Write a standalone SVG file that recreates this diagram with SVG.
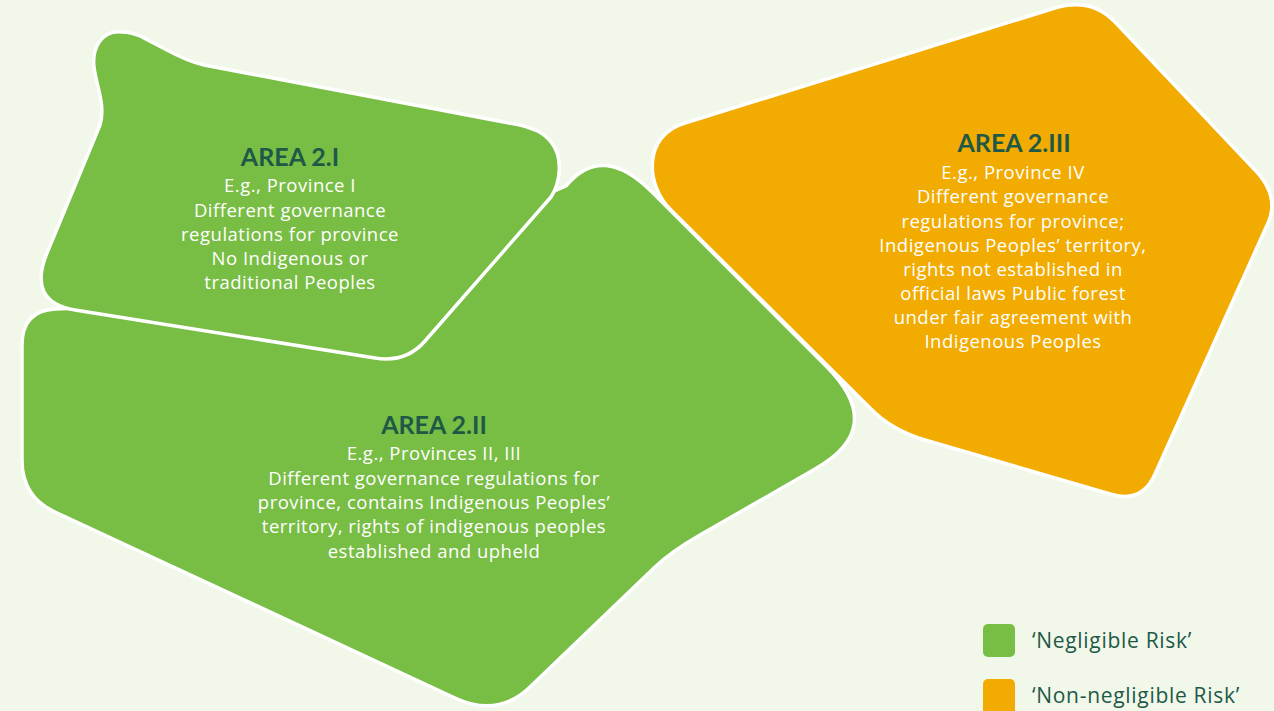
<svg xmlns="http://www.w3.org/2000/svg" width="1274" height="711" viewBox="0 0 1274 711">
<style>
.bg{fill:#f1f7e9}
.green{fill:#78bd44;stroke:#ffffff;stroke-width:3.5;stroke-linejoin:round}
.orange{fill:#f2ab00;stroke:#ffffff;stroke-width:3.5;stroke-linejoin:round}
.title{font-family:Lato,"Open Sans","Liberation Sans",sans-serif;font-weight:700;font-size:25px;fill:#1e5948;text-anchor:middle}
.body{font-family:"Open Sans",Lato,"Liberation Sans",sans-serif;font-size:18.5px;letter-spacing:0.5px;fill:#ffffff;text-anchor:middle}
.legend{font-family:"Open Sans",Lato,"Liberation Sans",sans-serif;font-size:21px;letter-spacing:0.7px;fill:#1e5948}
</style>
<rect class="bg" x="0" y="0" width="1274" height="711"/>

<g id="area-2-ii">
<path class="green" d="M 566,186 Q 602,142 652,192 L 826,366 Q 888,428 815,469 L 700,535 Q 672,551 655,567 L 530,687 Q 498,718 455,698 L 55,512 Q 22,497 22,460 L 22,345 Q 22,311 55,309 L 300,300 Z"/>
<text class="title" x="434" y="434">AREA 2.II</text>
<text class="body" x="434" y="460">E.g., Provinces II, III</text>
<text class="body" x="434" y="484.5">Different governance regulations for</text>
<text class="body" x="434" y="509">province, contains Indigenous Peoples’</text>
<text class="body" x="434" y="533">territory, rights of indigenous peoples</text>
<text class="body" x="434" y="557.5">established and upheld</text>
</g>

<g id="area-2-i">
<path class="green" d="M 122,32 C 100,30 92,50 94,67 C 96,85 106,105 100,125 L 47,253 Q 27,302 75,310 L 375,358 Q 406,363 425,341 L 551,197 C 560,183 564,158 551,142 C 543,132 535,129 520,125 L 204,65 C 190,62 178,56 165,49 L 140,36 C 133,33 128,32 122,32 Z"/>
<text class="title" x="290" y="166">AREA 2.I</text>
<text class="body" x="290" y="192">E.g., Province I</text>
<text class="body" x="290" y="216.5">Different governance</text>
<text class="body" x="290" y="240.5">regulations for province</text>
<text class="body" x="290" y="264.5">No Indigenous or</text>
<text class="body" x="290" y="288.5">traditional Peoples</text>
</g>

<g id="area-2-iii">
<path class="orange" d="M 1055,8 Q 1091,-3 1115,22 L 1255,170 Q 1280,196 1268,223 L 1155,474 Q 1142,504 1110,494 L 925,440 Q 891,430 870,408 L 671,210 C 645,185 643,135 685,123 Z"/>
<text class="title" x="1014" y="152">AREA 2.III</text>
<text class="body" x="1013" y="179">E.g., Province IV</text>
<text class="body" x="1013" y="203">Different governance</text>
<text class="body" x="1013" y="227.5">regulations for province;</text>
<text class="body" x="1013" y="251.5">Indigenous Peoples’ territory,</text>
<text class="body" x="1013" y="275.5">rights not established in</text>
<text class="body" x="1013" y="300">official laws Public forest</text>
<text class="body" x="1013" y="324">under fair agreement with</text>
<text class="body" x="1013" y="348">Indigenous Peoples</text>
</g>

<g id="legend">
<rect x="983" y="624" width="32" height="33" rx="5" fill="#78bd44"/>
<text class="legend" x="1032" y="648">‘Negligible Risk’</text>
<rect x="983" y="679" width="32" height="36" rx="5" fill="#f2ab00"/>
<text class="legend" x="1032" y="703">‘Non-negligible Risk’</text>
</g>
</svg>
